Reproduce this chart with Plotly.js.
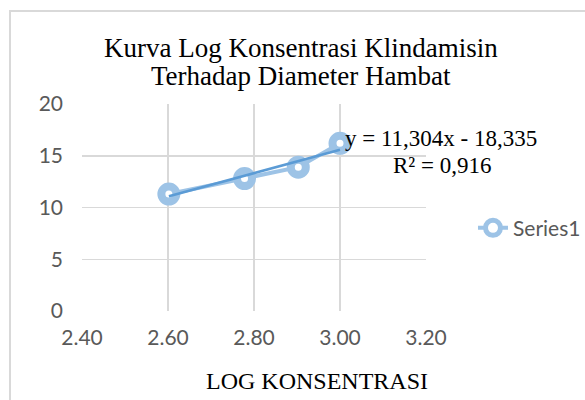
<!DOCTYPE html>
<html>
<head>
<meta charset="utf-8">
<script src="https://cdn.plot.ly/plotly-3.0.1.min.js"></script>
<style>
  html, body { margin: 0; padding: 0; background: #fff; overflow: hidden; }
  #wrap { position: relative; width: 585px; height: 400px; }
  #chart { position: absolute; left: 0; top: 0; width: 585px; height: 400px; }
  #frame { position: absolute; left: 9px; top: 10px; width: 620px; height: 420px;
           border: 2px solid #d9d9d9; box-sizing: border-box; pointer-events: none; }
</style>
</head>
<body>
<div id="wrap">
  <div id="chart"></div>
  <div id="frame"></div>
</div>
<script>
// Data
const logKonsentrasi = [2.602, 2.778, 2.903, 3.000];
const diameterHambat = [11.3, 12.8, 13.9, 16.2];
const seriesName = "Series1";

// Linear trendline end points (y = 11,304x - 18,335)
const trendX = [2.602, 3.000];
const trendY = [11.08, 15.58];

const titleLines = ["Kurva Log Konsentrasi Klindamisin", "Terhadap Diameter Hambat"];
const xTitle = "LOG KONSENTRASI";
const equationLines = ["y = 11,304x - 18,335", "R² = 0,916"];

const xTicks = [2.40, 2.60, 2.80, 3.00, 3.20];
const yTicks = [0, 5, 10, 15, 20];

const serif = "Liberation Serif, Times New Roman, serif";
const sans = "Lato, Open Sans, sans-serif";

const traces = [
  {
    x: logKonsentrasi, y: diameterHambat, name: seriesName,
    type: "scatter", mode: "lines+markers",
    line: { color: "#9dc3e6", width: 4 },
    marker: { symbol: "circle", size: 15, color: "#ffffff",
              line: { color: "#9dc3e6", width: 8 } },
    cliponaxis: false
  },
  {
    x: trendX, y: trendY, name: "Linear", showlegend: false,
    type: "scatter", mode: "lines",
    line: { color: "#5b9bd5", width: 2.5 },
    cliponaxis: false
  }
];

const annot = (text, x, y, size) => ({
  text, x, y, xref: "paper", yref: "paper", showarrow: false,
  xanchor: "center", yanchor: "middle",
  font: { family: serif, size, color: "#000000" }
});

const layout = {
  width: 585, height: 400,
  margin: { l: 82, r: 159, t: 104, b: 89, autoexpand: false },
  paper_bgcolor: "#ffffff", plot_bgcolor: "#ffffff",
  showlegend: true,
  xaxis: {
    range: [2.4, 3.2], tickvals: xTicks,
    ticktext: xTicks.map(v => v.toFixed(2)),
    showgrid: true, gridcolor: "#d9d9d9", gridwidth: 1.5,
    zeroline: false, showline: false, ticks: "",
    ticklabelstandoff: 12,
    tickfont: { family: sans, size: 21, color: "#595959" }
  },
  yaxis: {
    range: [0, 20], tickvals: yTicks,
    showgrid: true, gridcolor: "#d9d9d9", gridwidth: 1.5,
    zeroline: false, showline: false, ticks: "",
    ticklabelstandoff: 18,
    tickfont: { family: sans, size: 21, color: "#595959" }
  },
  legend: {
    x: 1.1366, xanchor: "left", y: 0.40, yanchor: "middle",
    bgcolor: "rgba(0,0,0,0)",
    font: { family: sans, size: 21, color: "#595959" }
  },
  annotations: [
    annot(titleLines[0], 0.6366, 1.2705, 27),
    annot(titleLines[1], 0.6366, 1.135, 27),
    annot(equationLines[0], 1.0436, 0.8357, 23),
    annot(equationLines[1], 1.046, 0.7053, 23),
    annot(xTitle, 0.683, -0.338, 24)
  ]
};

Plotly.newPlot("chart", traces, layout, { displayModeBar: false, staticPlot: true });
</script>
</body>
</html>
